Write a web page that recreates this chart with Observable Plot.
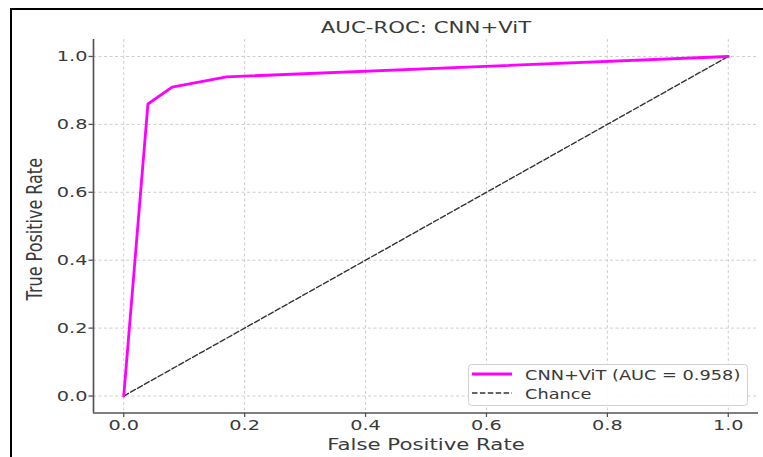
<!DOCTYPE html>
<html>
<head>
<meta charset="utf-8">
<script src="https://cdn.jsdelivr.net/npm/d3@7"></script>
<script src="https://cdn.jsdelivr.net/npm/@observablehq/plot@0.6"></script>
<style>
  html, body { margin: 0; padding: 0; background: #fff; }
  #wrap { position: relative; width: 763px; height: 457px; overflow: hidden; background: #fff; font-family: "DejaVu Sans", sans-serif; }
  #wrap > svg { display: block; }
  #border { position: absolute; left: 10px; top: 8px; width: 900px; height: 600px; border-left: 2px solid #000; border-top: 2.5px solid #000; pointer-events: none; }
  #legend { position: absolute; left: 0; top: 0; pointer-events: none; }
</style>
</head>
<body>
<div id="wrap"></div>
<script>
// ---- data ----
const fpr = [0, 0.04, 0.08, 0.17, 1.0];
const tpr = [0, 0.86, 0.91, 0.94, 1.0];
const chanceFpr = [0, 1];
const chanceTpr = [0, 1];
const tickValues = [0, 0.2, 0.4, 0.6, 0.8, 1.0];
const tickLabels = ["0.0", "0.2", "0.4", "0.6", "0.8", "1.0"];
const titleText = "AUC-ROC: CNN+ViT";
const xLabelText = "False Positive Rate";
const yLabelText = "True Positive Rate";
const legendLabels = ["CNN+ViT (AUC = 0.958)", "Chance"];

// ---- build tables ----
const roc = fpr.map((x, i) => ({x, y: tpr[i]}));
const chance = chanceFpr.map((x, i) => ({x, y: chanceTpr[i]}));
const fmt = d => tickLabels[tickValues.findIndex(v => Math.abs(v - d) < 1e-9)];

const K = 1.33; // horizontal text stretch of the reference
const textColor = "#3a3a3a";

const svg = Plot.plot({
  width: 763,
  height: 457,
  marginLeft: 93,
  marginRight: 5,
  marginTop: 39,
  marginBottom: 44.5,
  style: {fontFamily: "DejaVu Sans", background: "transparent", overflow: "visible"},
  x: {domain: [-0.05, 1.05]},
  y: {domain: [-0.05, 1.05]},
  marks: [
    Plot.gridX(tickValues, {stroke: "#c8c8c8", strokeOpacity: 1, strokeWidth: 0.9, strokeDasharray: "3,2.5"}),
    Plot.gridY(tickValues, {stroke: "#c8c8c8", strokeOpacity: 1, strokeWidth: 0.9, strokeDasharray: "3,2.5"}),
    Plot.line(chance, {x: "x", y: "y", stroke: "#333", strokeWidth: 1.4, strokeDasharray: "5.5,2.4"}),
    Plot.line(roc, {x: "x", y: "y", stroke: "#ff00ff", strokeWidth: 2.8, strokeLinejoin: "round"}),
    Plot.ruleX([-0.05], {stroke: "#555", strokeWidth: 1.7}),
    Plot.ruleY([-0.05], {stroke: "#555", strokeWidth: 1.7}),
    Plot.axisX(tickValues, {tickSize: 4.5, tickPadding: 2, tickFormat: fmt, fontSize: 14.5, stroke: "#555", strokeWidth: 1.3, fill: textColor, label: null}),
    Plot.axisY(tickValues, {tickSize: 4.5, tickPadding: 1.5, tickFormat: fmt, fontSize: 14.5, stroke: "#555", strokeWidth: 1.3, fill: textColor, label: null}),
    Plot.text([titleText], {text: d => d, frameAnchor: "top", textAnchor: "middle", lineAnchor: "bottom", dy: -7, fontSize: 16, fill: textColor}),
    Plot.text([xLabelText], {text: d => d, frameAnchor: "bottom", textAnchor: "middle", lineAnchor: "bottom", dy: 36.5, fontSize: 16, fill: textColor}),
    Plot.text([yLabelText], {text: d => d, frameAnchor: "left", textAnchor: "middle", rotate: -90, lineAnchor: "middle", dx: -58, dy: 3, fontSize: 16, fill: textColor})
  ]
});

const wrap = document.getElementById("wrap");
wrap.appendChild(svg);

// stretch text horizontally like the reference image
svg.querySelectorAll("text").forEach(t => {
  const m = t.getCTM();
  const rotated = m && Math.abs(m.b) > 0.5;
  const prev = t.getAttribute("transform") || "";
  t.setAttribute("transform", prev + (rotated ? ` scale(1,${K})` : ` scale(${K},1)`));
});

// ---- legend ----
const leg = d3.select(wrap).append("svg")
  .attr("id", "legend").attr("width", 763).attr("height", 457)
  .style("font-family", "DejaVu Sans");
leg.append("rect")
  .attr("x", 468.5).attr("y", 364.5).attr("width", 279).attr("height", 41)
  .attr("rx", 3).attr("fill", "rgba(255,255,255,0.9)").attr("stroke", "#d0d0d0").attr("stroke-width", 1);
const entries = [
  {label: legendLabels[0], stroke: "#ff00ff", width: 2.8, dash: null, y: 374},
  {label: legendLabels[1], stroke: "#333", width: 1.4, dash: "5.5,2.4", y: 393}
];
entries.forEach(e => {
  const ln = leg.append("line").attr("x1", 472).attr("x2", 512).attr("y1", e.y).attr("y2", e.y)
    .attr("stroke", e.stroke).attr("stroke-width", e.width);
  if (e.dash) ln.attr("stroke-dasharray", e.dash);
  leg.append("text").text(e.label)
    .attr("transform", `translate(525,${e.y + 6}) scale(1.315,1)`)
    .attr("font-size", 13.5).attr("fill", textColor);
});

const border = document.createElement("div");
border.id = "border";
wrap.appendChild(border);
</script>
</body>
</html>
